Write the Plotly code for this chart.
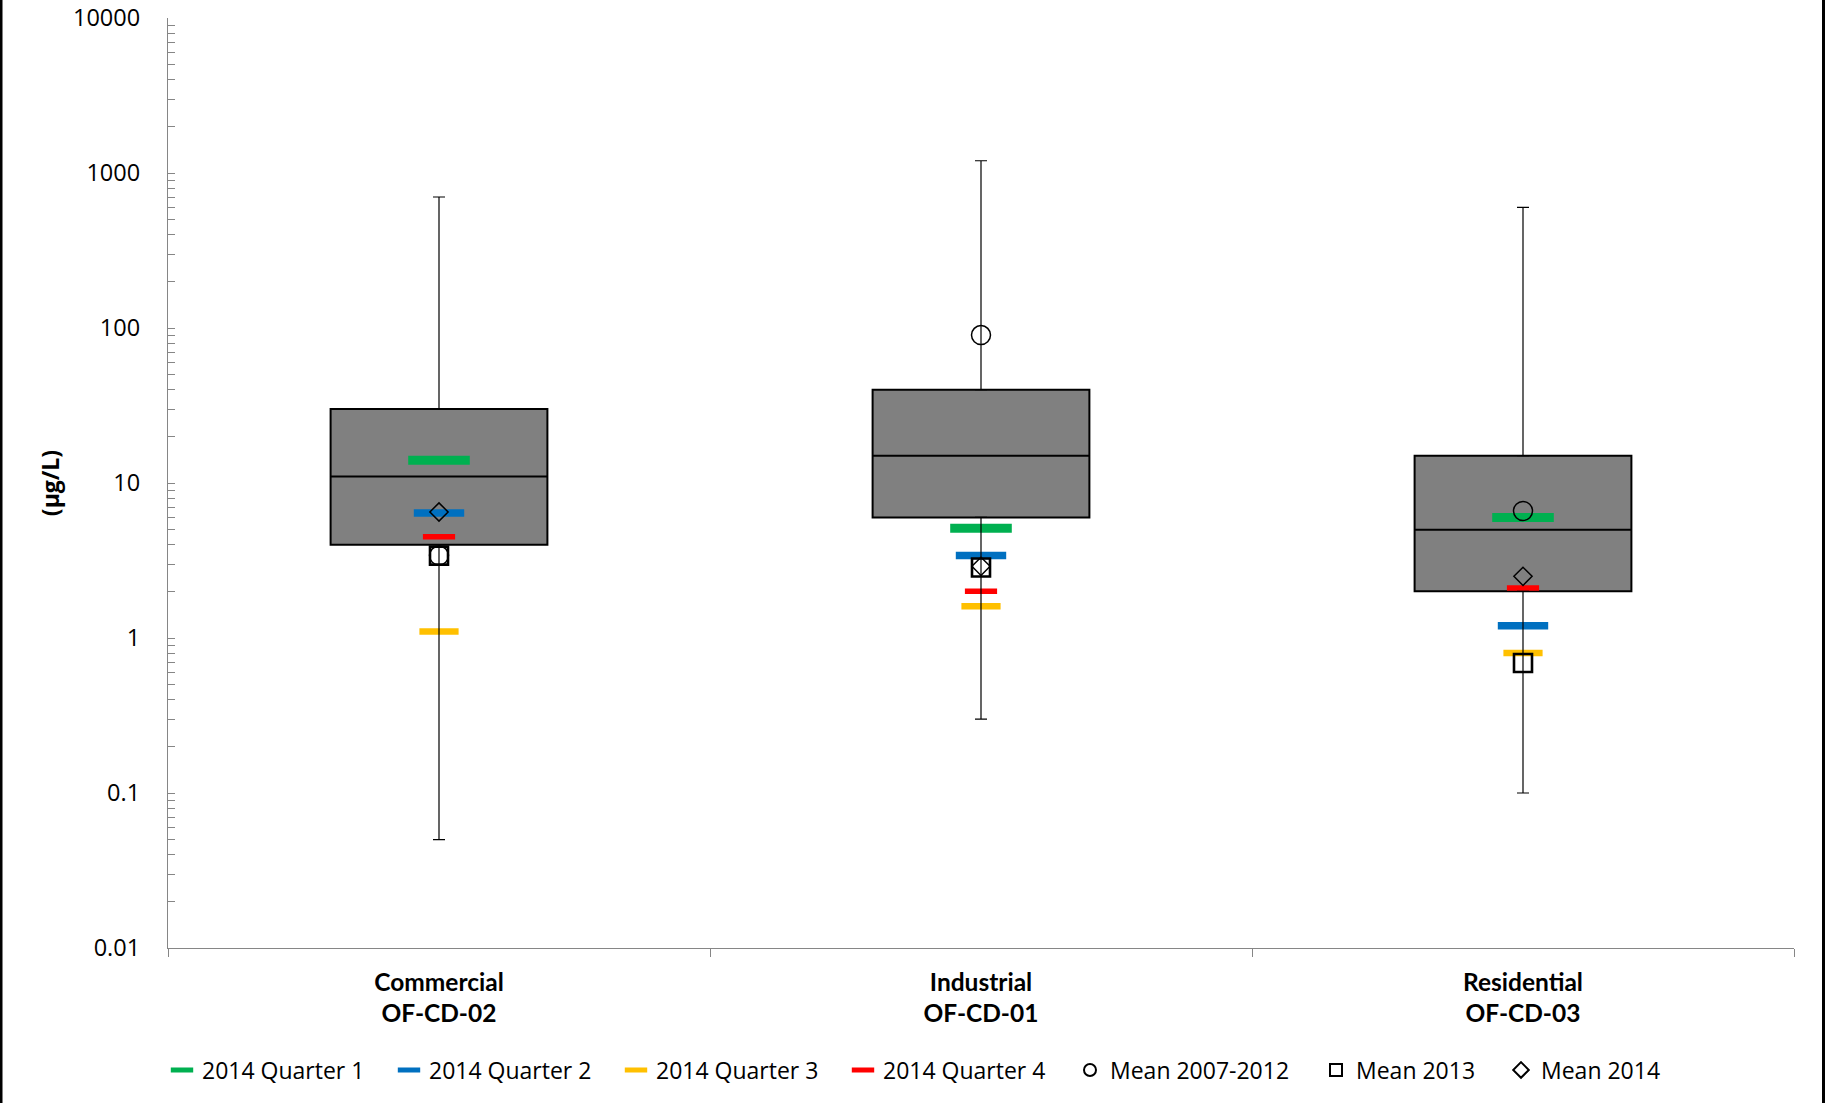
import plotly.graph_objects as go

# ---------------- data ----------------
categories = ["Commercial<br>OF-CD-02", "Industrial<br>OF-CD-01", "Residential<br>OF-CD-03"]
whisker_low = [0.05, 0.3, 0.1]
box_q1 = [4.0, 6.0, 2.0]
box_median = [11.0, 15.0, 5.0]
box_q3 = [30.0, 40.0, 15.0]
whisker_high = [700.0, 1200.0, 600.0]

q1_2014 = [14.0, 5.1, 6.0]
q2_2014 = [6.4, 3.4, 1.2]
q3_2014 = [1.1, 1.6, 0.8]
q4_2014 = [4.5, 2.0, 2.1]
mean_2007_2012 = [3.4, 90.0, 6.6]
mean_2013 = [3.4, 2.85, 0.69]
mean_2014 = [6.5, 2.9, 2.5]

y_tickvals = [0.01, 0.1, 1, 10, 100, 1000, 10000]
y_ticktext = ["0.01", "0.1", "1", "10", "100", "1000", "10000"]

# ---------------- layout geometry ----------------
W, H = 1825, 1103
ML, MR, MT, MB = 168, 31, 18, 155
PW = W - ML - MR
PH = H - MT - MB
FONT = "Open Sans"
AXIS_GRAY = "#868686"


def paper_x(px):
    return (px - ML) / PW


def paper_y(py):
    return (H - MB - py) / PH


fig = go.Figure()

# box (no whiskers; those come from error bars)
fig.add_trace(go.Box(
    x=categories, q1=box_q1, median=box_median, q3=box_q3,
    lowerfence=box_q1, upperfence=box_q3,
    width=0.4, whiskerwidth=0, boxpoints=False,
    fillcolor="#808080", line=dict(color="black", width=2),
    showlegend=False, hoverinfo="skip",
))

# quarter dashes
quarters = [
    ("2014 Quarter 1", q1_2014, "#00B050", 44, 9),
    ("2014 Quarter 2", q2_2014, "#0070C0", 36, 7.5),
    ("2014 Quarter 3", q3_2014, "#FFC000", 28, 6.5),
    ("2014 Quarter 4", q4_2014, "#FF0000", 23, 5.5),
]
legend_ids = ["legend", "legend2", "legend3", "legend4", "legend5", "legend6", "legend7"]
for i, (name, vals, col, sz, lw) in enumerate(quarters):
    fig.add_trace(go.Scatter(
        x=categories, y=vals, mode="markers", name=name,
        marker=dict(symbol="line-ew", size=sz, color=col,
                    line=dict(color=col, width=lw)),
        legend=legend_ids[i], hoverinfo="skip",
    ))

# whiskers via error bars
upper_len = [h - q for h, q in zip(whisker_high, box_q3)]
lower_len = [q - l for q, l in zip(box_q1, whisker_low)]
fig.add_trace(go.Scatter(
    x=categories, y=box_q3, mode="markers", marker=dict(opacity=0, size=1),
    error_y=dict(type="data", symmetric=False, array=upper_len,
                 arrayminus=[0] * len(upper_len), color="black", thickness=1.2, width=6),
    showlegend=False, hoverinfo="skip",
))
fig.add_trace(go.Scatter(
    x=categories, y=box_q1, mode="markers", marker=dict(opacity=0, size=1),
    error_y=dict(type="data", symmetric=False, array=[0] * len(lower_len),
                 arrayminus=lower_len, color="black", thickness=1.2, width=6),
    showlegend=False, hoverinfo="skip",
))

# means
means = [
    ("Mean 2007-2012", mean_2007_2012, "circle-open", 19, 1.5),
    ("Mean 2013", mean_2013, "square-open", 18, 2.6),
    ("Mean 2014", mean_2014, "diamond-open", 14, 1.5),
]
for j, (name, vals, sym, sz, lw) in enumerate(means):
    fig.add_trace(go.Scatter(
        x=categories, y=vals, mode="markers", name=name,
        marker=dict(symbol=sym, size=sz, color="black", line=dict(color="black", width=lw)),
        legend=legend_ids[4 + j], hoverinfo="skip",
    ))

# legends: one entry each, positioned like the reference
legend_text_starts = [198, 425, 652, 879, 1106, 1352, 1537]
legend_font = dict(family=FONT, size=23, color="black")
for k, lid in enumerate(legend_ids):
    fig.update_layout({lid: dict(
        x=paper_x(legend_text_starts[k] - 36), xanchor="left",
        y=paper_y(1070), yanchor="middle",
        orientation="h", bgcolor="rgba(0,0,0,0)", borderwidth=0,
        font=legend_font,
        itemsizing="trace" if k < 4 else "constant",
    )})

fig.update_layout(
    template="none",
    width=W, height=H,
    margin=dict(l=ML, r=MR, t=MT, b=MB, pad=0),
    paper_bgcolor="white", plot_bgcolor="white",
    font=dict(family=FONT, size=23, color="black"),
    showlegend=True,
    xaxis=dict(
        type="category", range=[-0.5, 2.5],
        showline=True, linecolor=AXIS_GRAY, linewidth=1.3,
        ticks="outside", tickson="boundaries", ticklen=8, tickcolor=AXIS_GRAY, tickwidth=1.3,
        showgrid=False, zeroline=False, automargin=False,
        tickfont=dict(family="Lato", size=24.5, color="black", weight="bold"),
        ticklabelstandoff=12,
    ),
    yaxis=dict(
        type="log", range=[-2, 4],
        tickmode="array", tickvals=y_tickvals, ticktext=y_ticktext,
        showline=True, linecolor=AXIS_GRAY, linewidth=1.3,
        ticks="inside", ticklen=7, tickcolor=AXIS_GRAY, tickwidth=1.3,
        minor=dict(ticks="inside", ticklen=7, tickcolor=AXIS_GRAY, tickwidth=1.3,
                   dtick="D1", showgrid=False),
        showgrid=False, zeroline=False, automargin=False,
        tickfont=dict(family=FONT, size=23.5, color="black"),
        ticklabelstandoff=22,
        title=dict(text="<b>(µg/L)</b>", font=dict(family=FONT, size=23, color="black"),
                   standoff=6),
    ),
    shapes=[
        dict(type="line", xref="paper", yref="paper", x0=paper_x(1), x1=paper_x(1),
             y0=-1, y1=2, line=dict(color="black", width=3)),
        dict(type="line", xref="paper", yref="paper", x0=paper_x(1823.5), x1=paper_x(1823.5),
             y0=-1, y1=2, line=dict(color="black", width=3)),
    ],
)

fig.write_html(
    "out.html",
    config={"displayModeBar": False},
    post_script="document.body.style.margin='0';document.body.style.overflow='hidden';",
)
